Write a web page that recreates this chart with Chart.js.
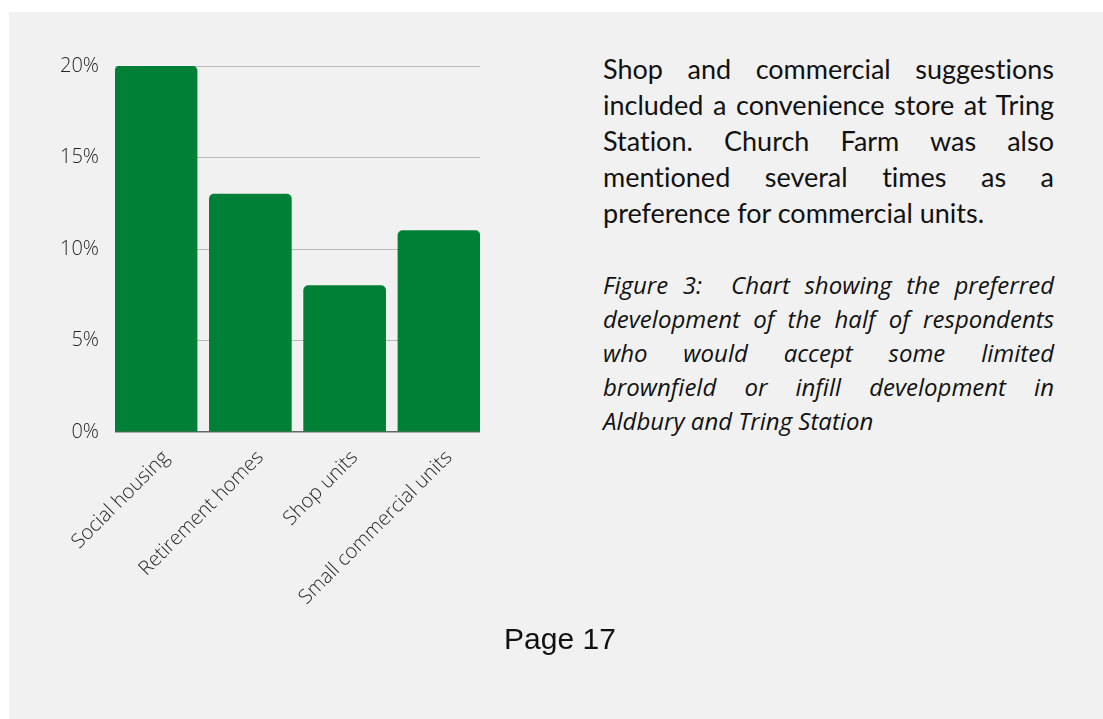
<!DOCTYPE html>
<html>
<head>
<meta charset="utf-8">
<script src="https://cdn.jsdelivr.net/npm/chart.js@4"></script>
<style>
  body { margin: 0; background: #fff; width: 1103px; height: 719px; position: relative; overflow: hidden; }
  #panel { position: absolute; left: 9px; top: 12px; right: 0; bottom: 0; background: #f1f1f1; }
  #chartBox { position: absolute; left: 0; top: 0; width: 500px; height: 640px; }
  .para { position: absolute; left: 603px; width: 451px; text-align: justify; color: #111; font-variant-ligatures: none; }
  #text1 { top: 51px; font-family: Lato, "Noto Sans", sans-serif; font-size: 27px; line-height: 36px; }
  #text2 { top: 268px; font-family: "Open Sans", "Noto Sans", sans-serif; font-size: 24px; line-height: 34px; font-style: italic; }
  #page { position: absolute; left: 460px; width: 200px; top: 622px; text-align: center; font-family: "Liberation Sans", Arial, sans-serif; font-size: 30px; color: #111; }
</style>
</head>
<body>
<div id="panel"></div>
<div id="chartBox"><canvas id="chart" width="500" height="640"></canvas></div>
<div class="para" id="text1">Shop and commercial suggestions included a convenience store at Tring Station. Church Farm was also mentioned several times as a preference for commercial units.</div>
<div class="para" id="text2">Figure 3:&nbsp; Chart showing the preferred development of the half of respondents who would accept some limited brownfield or infill development in Aldbury and Tring Station</div>
<div id="page">Page 17</div>
<script>
// Категории и значения (в процентах)
const categories = ['Social housing', 'Retirement homes', 'Shop units', 'Small commercial units'];
const values = [20, 13, 8, 11];
const yTicks = [0, 5, 10, 15, 20];

const barColor = '#008037';
const labelColor = '#262626';

// Столбцы по позициям 0..3 на линейной оси, чтобы крайние столбцы касались краёв сетки
const points = values.map((v, i) => ({ x: i, y: v }));

const ctx = document.getElementById('chart').getContext('2d');
const chart = new Chart(ctx, {
    type: 'bar',
    data: {
        datasets: [{
            data: points,
            backgroundColor: barColor,
            borderRadius: 5,
            barThickness: 82
        }]
    },
    options: {
        responsive: false,
        animation: false,
        layout: { padding: { top: 66, right: 20, left: 0, bottom: 0 } },
        plugins: { legend: { display: false }, tooltip: { enabled: false } },
        scales: {
            x: {
                type: 'linear',
                bounds: 'data',
                offset: false,
                min: -0.4355,
                max: categories.length - 1 + 0.4355,
                afterBuildTicks: function(scale) {
                    scale.ticks = categories.map((c, i) => ({ value: i }));
                },
                grid: { display: false },
                border: { display: false },
                ticks: {
                    color: labelColor,
                    font: { family: 'Open Sans', size: 20, weight: 300 },
                    minRotation: 45,
                    maxRotation: 45,
                    padding: 6,
                    labelOffset: 10,
                    callback: v => categories[v]
                },
                afterFit: function(scale) { scale.height = 208; }
            },
            y: {
                min: 0,
                max: 20,
                afterBuildTicks: function(scale) {
                    scale.ticks = yTicks.map(v => ({ value: v }));
                },
                grid: {
                    drawTicks: false,
                    color: c => (c.tick && c.tick.value === 0) ? '#666666' : '#b8b8b8',
                    lineWidth: c => (c.tick && c.tick.value === 0) ? 1.5 : 1
                },
                border: { display: false },
                ticks: {
                    color: labelColor,
                    font: { family: 'Open Sans', size: 20, weight: 300 },
                    padding: 16,
                    callback: v => v + '%'
                },
                afterFit: function(scale) { scale.width = 115; }
            }
        }
    }
});
</script>
</body>
</html>
